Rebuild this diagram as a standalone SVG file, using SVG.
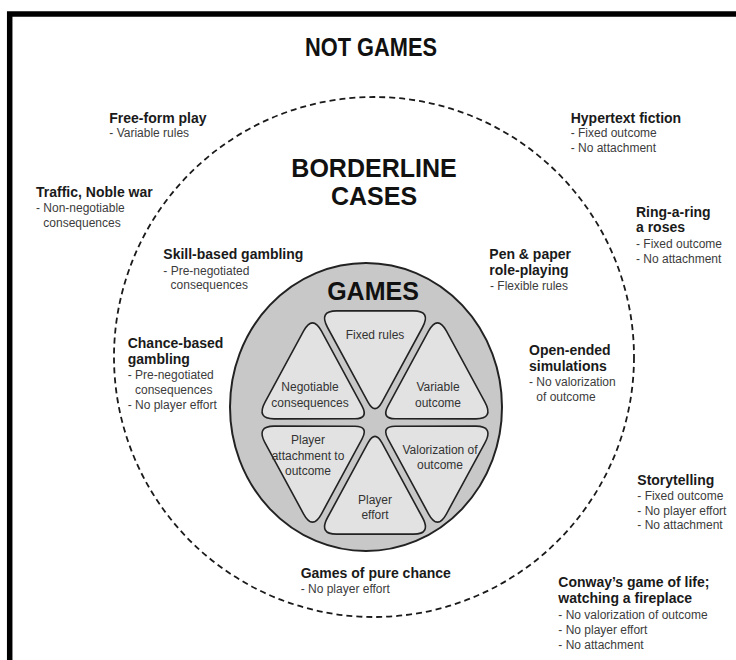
<svg xmlns="http://www.w3.org/2000/svg" width="736" height="660" viewBox="0 0 736 660">
<style>
text{font-family:"Liberation Sans",Arial,sans-serif}
.big{font-size:25px;font-weight:bold;fill:#111;text-anchor:middle}
.t{font-size:14px;font-weight:bold;fill:#1a1a1a}
.s{font-size:12px;fill:#3c3c3c}
.in{font-size:12px;fill:#333;text-anchor:middle}
.slice{fill:#e2e2e2;stroke:#222;stroke-width:1.6}
</style>
<defs>
<path id="sl" d="M7,-19.12 L47.44,-89.16 Q56.44,-104.75 38.44,-104.75 L-38.44,-104.75 Q-56.44,-104.75 -47.44,-89.16 L-7,-19.12 Q0,-7 7,-19.12 Z"/>
</defs>
<rect x="9.7" y="14" width="900" height="900" fill="none" stroke="#000" stroke-width="5.5"/>
<g id="not-games">
<text class="big" x="371" y="56" font-size="26" textLength="132" lengthAdjust="spacingAndGlyphs">NOT GAMES</text>
</g>
<g id="borderline">
<circle cx="374" cy="357" r="260" fill="none" stroke="#1a1a1a" stroke-width="1.8" stroke-dasharray="6 4"/>
<text class="big" x="374" y="176.7">BORDERLINE</text>
<text class="big" x="374" y="205">CASES</text>
</g>
<g id="games">
<ellipse cx="366" cy="407" rx="136" ry="144" fill="#c8c8c8" stroke="#222" stroke-width="2"/>
<text class="big" x="373" y="299.7">GAMES</text>
</g>
<g id="fixed-rules">
<use href="#sl" class="slice" transform="translate(375,422.5) scale(1,1.066)"/>
<text class="in" x="375" y="339">Fixed rules</text>
</g>
<g id="variable-outcome">
<use href="#sl" class="slice" transform="translate(375,422.5) scale(1,1.066) rotate(60)"/>
<text class="in" x="438" y="391">Variable</text>
<text class="in" x="438" y="407">outcome</text>
</g>
<g id="valorization">
<use href="#sl" class="slice" transform="translate(375,422.5) scale(1,1.066) rotate(120)"/>
<text class="in" x="440" y="454">Valorization of</text>
<text class="in" x="440" y="469">outcome</text>
</g>
<g id="player-effort">
<use href="#sl" class="slice" transform="translate(375,422.5) scale(1,1.066) rotate(180)"/>
<text class="in" x="375" y="503.5">Player</text>
<text class="in" x="375" y="519">effort</text>
</g>
<g id="player-attachment">
<use href="#sl" class="slice" transform="translate(375,422.5) scale(1,1.066) rotate(240)"/>
<text class="in" x="308" y="444">Player</text>
<text class="in" x="308" y="460">attachment to</text>
<text class="in" x="308" y="474.5">outcome</text>
</g>
<g id="negotiable">
<use href="#sl" class="slice" transform="translate(375,422.5) scale(1,1.066) rotate(300)"/>
<text class="in" x="310" y="391">Negotiable</text>
<text class="in" x="310" y="407">consequences</text>
</g>
<g id="free-form-play">
<text class="t" x="109.3" y="123.3">Free-form play</text>
<text class="s" x="109.3" y="137.3">- Variable rules</text>
</g>
<g id="traffic">
<text class="t" x="36" y="197.3">Traffic, Noble war</text>
<text class="s" x="36" y="211.7">- Non-negotiable</text>
<text class="s" x="43.3" y="226.7">consequences</text>
</g>
<g id="skill-gambling">
<text class="t" x="163.3" y="259.3">Skill-based gambling</text>
<text class="s" x="163.3" y="275">- Pre-negotiated</text>
<text class="s" x="170.6" y="289.3">consequences</text>
</g>
<g id="chance-gambling">
<text class="t" x="127.7" y="348.3">Chance-based</text>
<text class="t" x="127.7" y="363.5">gambling</text>
<text class="s" x="127.7" y="379.3">- Pre-negotiated</text>
<text class="s" x="135" y="394.3">consequences</text>
<text class="s" x="127.7" y="409.3">- No player effort</text>
</g>
<g id="hypertext">
<text class="t" x="570.7" y="122.7">Hypertext fiction</text>
<text class="s" x="570.7" y="136.7">- Fixed outcome</text>
<text class="s" x="570.7" y="151.7">- No attachment</text>
</g>
<g id="ring-a-ring">
<text class="t" x="636" y="216.7">Ring-a-ring</text>
<text class="t" x="636" y="232.3">a roses</text>
<text class="s" x="636" y="247.7">- Fixed outcome</text>
<text class="s" x="636" y="262.7">- No attachment</text>
</g>
<g id="pen-paper">
<text class="t" x="489.3" y="259.3">Pen &amp; paper</text>
<text class="t" x="489.3" y="275">role-playing</text>
<text class="s" x="490" y="290">- Flexible rules</text>
</g>
<g id="open-ended">
<text class="t" x="529" y="355">Open-ended</text>
<text class="t" x="529" y="370.7">simulations</text>
<text class="s" x="529" y="386">- No valorization</text>
<text class="s" x="536.3" y="401">of outcome</text>
</g>
<g id="storytelling">
<text class="t" x="637.3" y="485">Storytelling</text>
<text class="s" x="637.3" y="500">- Fixed outcome</text>
<text class="s" x="637.3" y="515">- No player effort</text>
<text class="s" x="637.3" y="529.3">- No attachment</text>
</g>
<g id="pure-chance">
<text class="t" x="300.7" y="577.7">Games of pure chance</text>
<text class="s" x="300.7" y="593.3">- No player effort</text>
</g>
<g id="conway">
<text class="t" x="558.3" y="586.7">Conway’s game of life;</text>
<text class="t" x="558.3" y="603.3">watching a fireplace</text>
<text class="s" x="558.3" y="619">- No valorization of outcome</text>
<text class="s" x="558.3" y="634">- No player effort</text>
<text class="s" x="558.3" y="649">- No attachment</text>
</g>
</svg>
